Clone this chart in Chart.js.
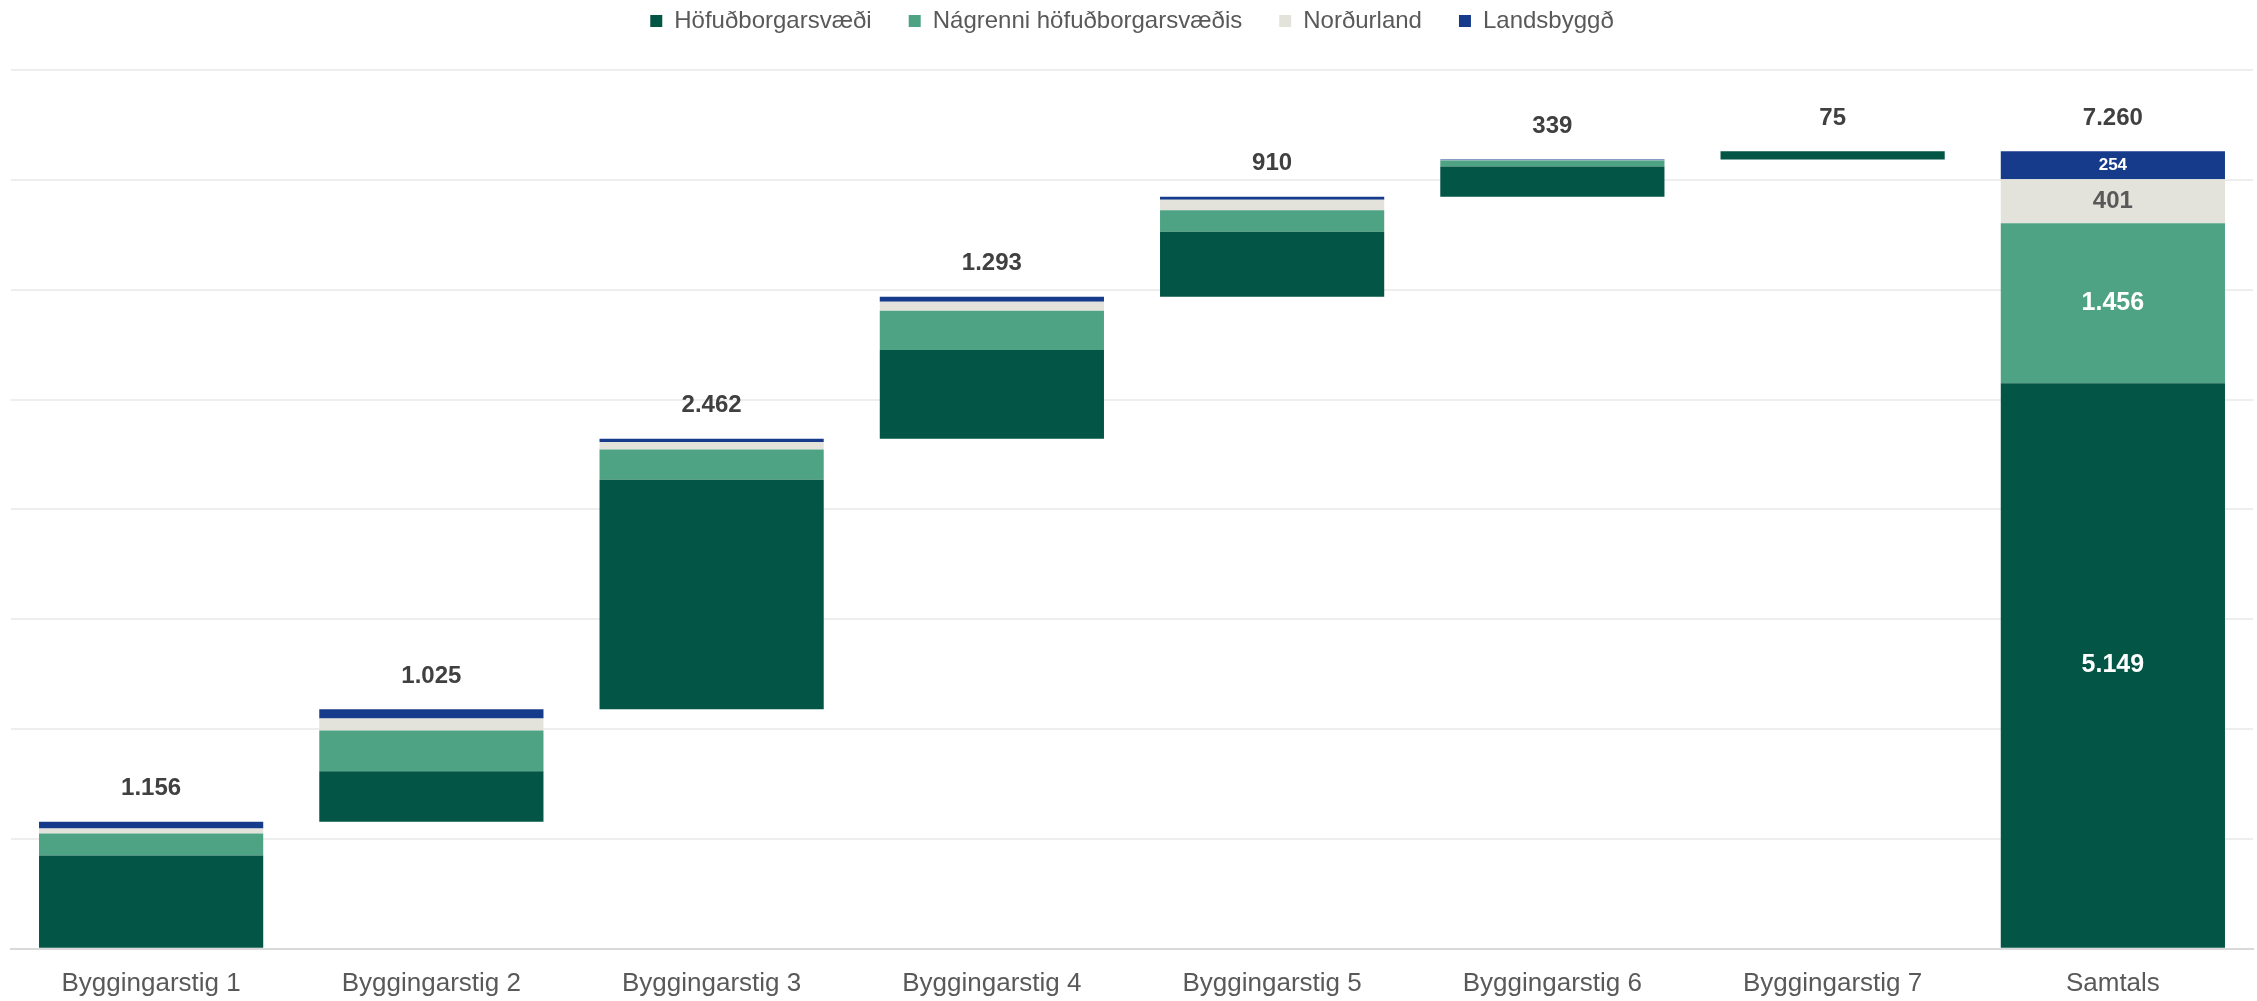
<!DOCTYPE html>
<html lang="is">
<head>
<meta charset="utf-8">
<title>Byggingarstig</title>
<script src="https://cdn.jsdelivr.net/npm/chart.js@4.4.1/dist/chart.umd.min.js"></script>
<style>
  html, body { margin: 0; padding: 0; background: #ffffff; }
  #wrap { width: 2257px; height: 1001px; }
</style>
</head>
<body>
<div id="wrap"><canvas id="graf" width="2257" height="1001"></canvas></div>
<script>
// ================= GÖGN =================
const flokkar = ["Byggingarstig 1", "Byggingarstig 2", "Byggingarstig 3", "Byggingarstig 4",
                 "Byggingarstig 5", "Byggingarstig 6", "Byggingarstig 7", "Samtals"];

const hofudborgarsvaedi = [850, 460, 2088, 809, 591, 276, 75, 5149];
const nagrenni          = [200, 372, 277, 357, 196, 54, 0, 1456];
const nordurland        = [45, 109, 68, 81, 95, 3, 0, 401];
const landsbyggd        = [61, 84, 29, 46, 28, 6, 0, 254];
const samtolur          = [1156, 1025, 2462, 1293, 910, 339, 75, 7260];

const yTicks = [0, 1000, 2000, 3000, 4000, 5000, 6000, 7000, 8000];

// ósýnilegur grunnur fyrir fossagraf (síðasta súlan stendur á núlli)
const grunnur = samtolur.map((v, i) => {
  if (i === samtolur.length - 1) return 0;
  return samtolur.slice(0, i).reduce((a, b) => a + b, 0);
});

const LITIR = {
  hofud: "#035546",
  nagr: "#4ea384",
  nord: "#e3e3db",
  lands: "#173b8b"
};

const FONT = "'Liberation Sans', Arial, Helvetica, sans-serif";

const fmt = v => String(v).replace(/\B(?=(\d{3})+(?!\d))/g, ".");

// ================= MERKINGAR =================
const merkingar = {
  id: "merkingar",
  afterDatasetsDraw(chart) {
    const ctx = chart.ctx;
    const y = chart.scales.y;
    const meta = chart.getDatasetMeta(1);
    ctx.save();
    ctx.textAlign = "center";
    ctx.textBaseline = "middle";

    // heildartölur ofan á súlum
    ctx.font = "bold 24px " + FONT;
    ctx.fillStyle = "#404040";
    samtolur.forEach((v, i) => {
      const x = meta.data[i].x;
      const top = y.getPixelForValue(grunnur[i] + v);
      ctx.fillText(fmt(v), x, top - 33);
    });

    // tölur inni í Samtals súlunni
    const last = flokkar.length - 1;
    const innri = [
      { ds: 1, col: "#ffffff", size: 25 },
      { ds: 2, col: "#ffffff", size: 25 },
      { ds: 3, col: "#595959", size: 24 },
      { ds: 4, col: "#ffffff", size: 17 }
    ];
    innri.forEach(o => {
      const el = chart.getDatasetMeta(o.ds).data[last];
      const val = chart.data.datasets[o.ds].data[last];
      ctx.font = "bold " + o.size + "px " + FONT;
      ctx.fillStyle = o.col;
      ctx.fillText(fmt(val), el.x, (el.y + el.base) / 2);
    });
    ctx.restore();
  }
};

// meira bil undir skýringum
const legendBil = {
  id: "legendBil",
  beforeInit(chart) {
    const fit = chart.legend.fit;
    chart.legend.fit = function () {
      fit.call(this);
      this.height += 27;
    };
  }
};

// ================= GRAF =================
const ctx = document.getElementById("graf").getContext("2d");

const graf = new Chart(ctx, {
  type: "bar",
  data: {
    labels: flokkar,
    datasets: [
      { label: "", data: grunnur, backgroundColor: "rgba(0,0,0,0)", stack: "s" },
      { label: "Höfuðborgarsvæði", data: hofudborgarsvaedi, backgroundColor: LITIR.hofud, stack: "s" },
      { label: "Nágrenni höfuðborgarsvæðis", data: nagrenni, backgroundColor: LITIR.nagr, stack: "s" },
      { label: "Norðurland", data: nordurland, backgroundColor: LITIR.nord, stack: "s" },
      { label: "Landsbyggð", data: landsbyggd, backgroundColor: LITIR.lands, stack: "s" }
    ]
  },
  options: {
    responsive: false,
    animation: false,
    devicePixelRatio: 1,
    layout: { padding: { top: -28, left: 11, right: 4, bottom: -17 } },
    datasets: {
      bar: { categoryPercentage: 1, barPercentage: 0.8, borderWidth: 0 }
    },
    plugins: {
      tooltip: { enabled: false },
      legend: {
        position: "top",
        labels: {
          filter: item => item.datasetIndex > 0,
          boxWidth: 12,
          boxHeight: 12,
          padding: 37,
          color: "#595959",
          font: { family: FONT, size: 24 }
        }
      }
    },
    scales: {
      x: {
        stacked: true,
        grid: { display: false, drawTicks: false },
        border: { display: true, color: "#d9d9d9", width: 2 },
        ticks: {
          color: "#595959",
          padding: 19,
          font: { family: FONT, size: 26 }
        }
      },
      y: {
        stacked: true,
        min: 0,
        max: 8000,
        afterBuildTicks: s => { s.ticks = yTicks.map(v => ({ value: v })); },
        grid: { color: "#eeeeee", lineWidth: 2, drawTicks: false },
        border: { display: false },
        ticks: { display: false }
      }
    }
  },
  plugins: [merkingar, legendBil]
});
</script>
</body>
</html>
